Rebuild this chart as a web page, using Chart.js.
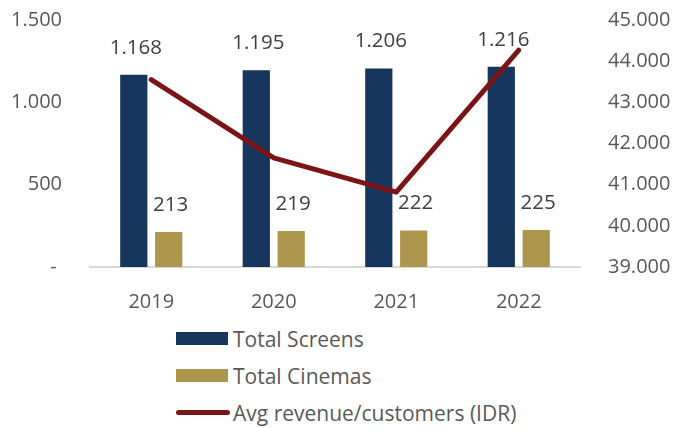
<!DOCTYPE html>
<html>
<head>
<meta charset="utf-8">
<script src="https://cdn.jsdelivr.net/npm/chart.js@4.4.0/dist/chart.umd.min.js"></script>
<style>
  html, body { margin: 0; padding: 0; background: #ffffff; }
  #wrap { position: relative; width: 678px; height: 428px; overflow: hidden; }
  #chartBox { position: absolute; left: 0; top: 0; width: 678px; height: 320px; }
  #legend { position: absolute; left: 176px; top: 320px; font-family: 'Open Sans', sans-serif; font-size: 21px; color: #595959; }
  .item { position: absolute; left: 0; height: 37px; white-space: nowrap; display: flex; align-items: center; }
  .sw { display: inline-block; width: 52px; height: 13px; margin-right: 5px; }
  .ln { display: inline-block; width: 54px; height: 5px; border-radius: 3px; margin-right: 3px; }
</style>
</head>
<body>
<div id="wrap">
  <div id="chartBox"><canvas id="c"></canvas></div>
  <div id="legend"></div>
</div>
<script>
const categories = ['2019', '2020', '2021', '2022'];
const seriesNames = ['Total Screens', 'Total Cinemas', 'Avg revenue/customers (IDR)'];
const totalScreens = [1168, 1195, 1206, 1216];
const totalCinemas = [213, 219, 222, 225];
const avgRevenue = [43550, 41650, 40820, 44270];
const leftTicks = { min: 0, max: 1500, step: 500 };
const rightTicks = { min: 39000, max: 45000, step: 1000 };

const colors = ['#17365d', '#ad974f', '#7b1416'];
const FONT = "'Open Sans', sans-serif";

function fmt(v) {
  return String(Math.round(v)).replace(/\B(?=(\d{3})+(?!\d))/g, '.');
}

const dataLabels = {
  id: 'dataLabels',
  afterDatasetDraw(chart, args) {
    const ds = chart.data.datasets[args.index];
    if (ds.type === 'line') return;
    const ctx = chart.ctx;
    ctx.save();
    ctx.font = '20.5px ' + FONT;
    ctx.fillStyle = '#404040';
    ctx.textAlign = 'center';
    ctx.textBaseline = 'middle';
    args.meta.data.forEach((el, i) => {
      ctx.fillText(fmt(ds.data[i]), el.x + 2, el.y - 27);
    });
    ctx.restore();
  }
};

const chart = new Chart(document.getElementById('c'), {
  data: {
    labels: categories,
    datasets: [
      {
        type: 'line', label: seriesNames[2], data: avgRevenue, yAxisID: 'y1',
        borderColor: colors[2], backgroundColor: colors[2], borderWidth: 5,
        pointRadius: 0, tension: 0, borderCapStyle: 'round', borderJoinStyle: 'round', order: 0
      },
      {
        type: 'bar', label: seriesNames[0], data: totalScreens, yAxisID: 'y',
        backgroundColor: colors[0], categoryPercentage: 0.57, barPercentage: 0.78, order: 1
      },
      {
        type: 'bar', label: seriesNames[1], data: totalCinemas, yAxisID: 'y',
        backgroundColor: colors[1], categoryPercentage: 0.57, barPercentage: 0.78, order: 1
      }
    ]
  },
  options: {
    responsive: true,
    maintainAspectRatio: false,
    animation: false,
    layout: { padding: { top: 20, left: 0, right: 0, bottom: 0 } },
    plugins: { legend: { display: false }, tooltip: { enabled: false } },
    scales: {
      x: {
        grid: { display: false },
        border: { display: true, color: '#d9d9d9', width: 2 },
        ticks: { color: '#595959', font: { family: FONT, size: 20 }, padding: 15 },
        afterFit(s) { s.height = 53; }
      },
      y: {
        position: 'left',
        min: leftTicks.min, max: leftTicks.max,
        grid: { display: false },
        border: { display: false },
        ticks: {
          stepSize: leftTicks.step, color: '#595959', font: { family: FONT, size: 20 }, padding: 20,
          callback: v => v === 0 ? '- ' : fmt(v)
        },
        afterFit(s) { s.width = 90; s.paddingTop = 12; s.paddingBottom = 0; }
      },
      y1: {
        position: 'right',
        min: rightTicks.min, max: rightTicks.max,
        grid: { display: false },
        border: { display: false },
        ticks: {
          stepSize: rightTicks.step, color: '#595959', font: { family: FONT, size: 20 }, padding: 20,
          callback: v => fmt(v)
        },
        afterFit(s) { s.width = 98; s.paddingTop = 12; s.paddingBottom = 0; }
      }
    }
  },
  plugins: [dataLabels]
});

// legend built from the chart's datasets
const legend = document.getElementById('legend');
const legendOrder = [1, 2, 0];
legendOrder.forEach((di, row) => {
  const ds = chart.data.datasets[di];
  const item = document.createElement('div');
  item.className = 'item';
  item.style.top = (row * 37) + 'px';
  const mark = document.createElement('span');
  mark.className = ds.type === 'line' ? 'ln' : 'sw';
  mark.style.background = ds.type === 'line' ? ds.borderColor : ds.backgroundColor;
  const txt = document.createElement('span');
  txt.textContent = ds.label;
  item.appendChild(mark);
  item.appendChild(txt);
  legend.appendChild(item);
});
</script>
</body>
</html>
